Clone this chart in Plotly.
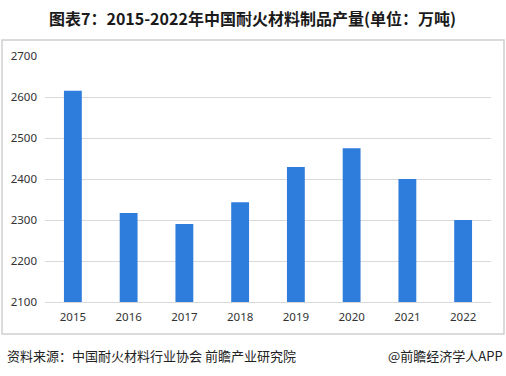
import plotly.graph_objects as go

years = ["2015", "2016", "2017", "2018", "2019", "2020", "2021", "2022"]
output = [2615, 2317, 2290, 2343, 2429, 2475, 2400, 2300]
y_ticks = [2100, 2200, 2300, 2400, 2500, 2600, 2700]

title_text = "图表7：2015-2022年中国耐火材料制品产量(单位：万吨)"
source_text = "资料来源：中国耐火材料行业协会 前瞻产业研究院"
brand_text = "@前瞻经济学人APP"

W, H = 506, 376
ml, mr, mt, mb = 45, 15, 56, 74
PW, PH = W - ml - mr, H - mt - mb


def px(x):
    return (x - ml) / PW


def py(y):
    return (H - mb - y) / PH


fig = go.Figure()
fig.add_trace(go.Bar(x=years, y=output, marker=dict(color="#2E7CDB", line=dict(width=0)),
                     width=0.32, hoverinfo="skip"))

fig.update_layout(
    width=W, height=H,
    margin=dict(l=ml, r=mr, t=mt, b=mb),
    paper_bgcolor="white", plot_bgcolor="white",
    showlegend=False,
    font=dict(family="Noto Sans CJK SC, Noto Sans, sans-serif", color="#333333"),
    xaxis=dict(showgrid=False, showline=True, linecolor="#d9d9d9", linewidth=1,
               ticks="", ticklabelstandoff=4,
               tickfont=dict(size=11.5, color="#333333", family="Noto Sans, sans-serif")),
    yaxis=dict(range=[2100, 2700], tickvals=y_ticks, showgrid=True, gridcolor="#d9d9d9",
               gridwidth=1, zeroline=False, ticks="", showline=False, ticklabelstandoff=7,
               tickfont=dict(size=11.5, color="#333333", family="Noto Sans, sans-serif")),
)

# outer frame
fig.add_shape(type="rect", xref="paper", yref="paper",
              x0=px(2), x1=px(504), y0=py(334), y1=py(40),
              line=dict(color="#cfcfcf", width=1.5), fillcolor="rgba(0,0,0,0)", layer="below")

fig.add_annotation(text="<b>" + title_text + "</b>", xref="paper", yref="paper",
                   x=px(252), y=py(18), xanchor="center", yanchor="middle", showarrow=False,
                   font=dict(size=16, color="#1a1a1a", family="Noto Sans CJK SC"))
fig.add_annotation(text=source_text, xref="paper", yref="paper",
                   x=px(5), y=py(355), xanchor="left", yanchor="middle", showarrow=False,
                   font=dict(size=13, color="#222222", family="Noto Sans CJK SC"))
fig.add_annotation(text=brand_text, xref="paper", yref="paper",
                   x=px(505), y=py(355), xanchor="right", yanchor="middle", showarrow=False,
                   font=dict(size=13, color="#222222", family="Noto Sans CJK SC"))

fig.write_html("out.html", config={"displayModeBar": False},
               post_script="document.body.style.margin='0';")
